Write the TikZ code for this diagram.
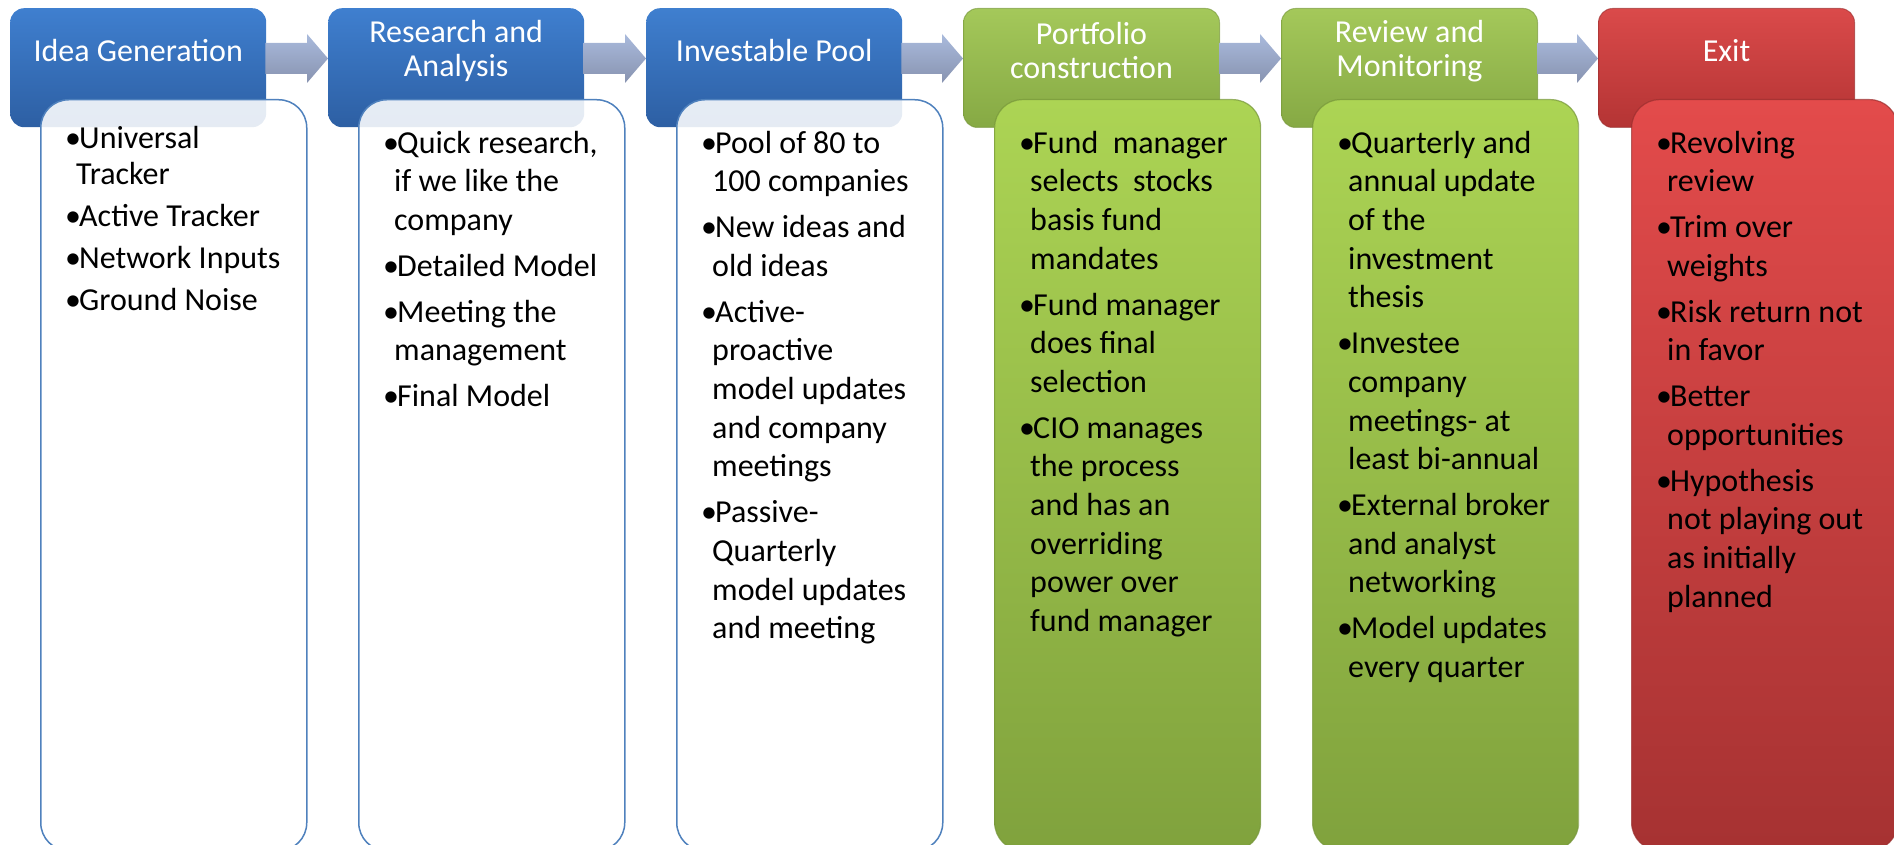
\documentclass[tikz,border=0pt]{standalone}
\usepackage{fontspec}
\setmainfont{Carlito}
\usetikzlibrary{calc}
\definecolor{blueT}{HTML}{3F7FCF}
\definecolor{blueB}{HTML}{2D5FA3}
\definecolor{arrT}{HTML}{A9BADC}
\definecolor{arrB}{HTML}{8893B0}
\definecolor{gHT}{HTML}{A4C85A}
\definecolor{gHB}{HTML}{86A944}
\definecolor{gBT}{HTML}{ACD454}
\definecolor{gBB}{HTML}{80A23D}
\definecolor{gLine}{HTML}{76963A}
\definecolor{rHT}{HTML}{DA4A4A}
\definecolor{rHB}{HTML}{B43434}
\definecolor{rBT}{HTML}{E34B4B}
\definecolor{rBB}{HTML}{A63232}
\definecolor{rLine}{HTML}{9A2E2E}
\definecolor{bodyLine}{HTML}{4F81BD}
\newcommand\bitem{\makebox[14pt][l]{•}}
\newcommand\bcont{\hspace*{11pt}}
\tikzset{
  hdr/.style={rectangle, rounded corners=14pt, minimum width=256pt, minimum height=119pt, inner sep=0pt, anchor=north west},
  bluehdr/.style={hdr, shade, top color=blueT, bottom color=blueB},
  greenhdr/.style={hdr, shade, top color=gHT, bottom color=gHB, draw=gLine, draw opacity=0.6, line width=1pt},
  redhdr/.style={hdr, shade, top color=rHT, bottom color=rHB, draw=rLine, draw opacity=0.6, line width=1pt},
  bodybox/.style={rectangle, rounded corners=28pt, minimum width=266pt, minimum height=751pt, inner sep=0pt, anchor=north west},
  whitebody/.style={bodybox, fill=white, fill opacity=0.88, draw=bodyLine, draw opacity=1, line width=1.5pt},
  greenbody/.style={bodybox, shade, top color=gBT, bottom color=gBB, draw=gLine, draw opacity=0.7, line width=1.2pt},
  redbody/.style={bodybox, shade, top color=rBT, bottom color=rBB, draw=rLine, draw opacity=0.7, line width=1.2pt},
  htxt/.style={text=white, align=center, inner sep=0pt, font=\fontsize{32}{34}\selectfont},
  btxt/.style={text=black, align=left, inner sep=0pt, anchor=north west, font=\fontsize{32}{38.66}\selectfont},
  flow/.style={shade, top color=arrT, bottom color=arrB},
}
\begin{document}
\begin{tikzpicture}[x=1pt,y=-1pt]
\useasboundingbox (0,0) rectangle (1894,845);
\clip (0,0) rectangle (1894,845);

% headers
\node[bluehdr] (h1) at (10,8) {};
\node[bluehdr] (h2) at (328,8) {};
\node[bluehdr] (h3) at (646,8) {};
\node[greenhdr] (h4) at (963,8) {};
\node[greenhdr] (h5) at (1281,8) {};
\node[redhdr] (h6) at (1598,8) {};

% arrows
\foreach \a/\b in {h1/h2,h2/h3,h3/h4,h4/h5,h5/h6}{
  \path[flow] ($(\a.north east)+(-1,35)$) -- ($(\b.north west)+(-21,35)$) -- ($(\b.north west)+(-21,26)$)
    -- ($(\b.north west)+(0,50.5)$) -- ($(\b.north west)+(-21,75)$) -- ($(\b.north west)+(-21,66)$)
    -- ($(\a.north east)+(-1,66)$) -- cycle;
}

% header texts
\node[htxt] (t1) at ($(h1.north)+(0,43)$) {Idea Generation};
\node[htxt] (t2) at ($(h2.north)+(0,43)$) {Research and\\Analysis};
\node[htxt] (t3) at ($(h3.north)+(0,43)$) {Investable Pool};
\node[htxt] (t4) at ($(h4.north)+(0,43)$) {Portfolio\\construction};
\node[htxt] (t5) at ($(h5.north)+(0,43)$) {Review and\\Monitoring};
\node[htxt] (t6) at ($(h6.north)+(0,43)$) {Exit};

% bodies
\node[whitebody] (b1) at (40,99) {};
\node[whitebody] (b2) at (358,99) {};
\node[whitebody] (b3) at (676,99) {};
\node[greenbody] (b4) at (994,99) {};
\node[greenbody] (b5) at (1312,99) {};
\node[redbody] (b6) at (1631,99) {};

% body texts
\node[btxt, font=\fontsize{32}{36.2}\selectfont] (x1) at ($(b1.north west)+(25,25.5)$)
 {\rule{0pt}{24pt}\bitem Universal\\ \bcont Tracker\\[5.7pt]
  \bitem Active Tracker\\[5.7pt]
  \bitem Network Inputs\\[5.7pt]
  \bitem Ground Noise};

\node[btxt] (x2) at ($(b2.north west)+(25,30)$)
 {\rule{0pt}{24pt}\bitem Quick research,\\ \bcont if we like the\\ \bcont company\\[7.2pt]
  \bitem Detailed Model\\[7.2pt]
  \bitem Meeting the\\ \bcont management\\[7.2pt]
  \bitem Final Model};

\node[btxt] (x3) at ($(b3.north west)+(25,30)$)
 {\rule{0pt}{24pt}\bitem Pool of 80 to\\ \bcont 100 companies\\[7.2pt]
  \bitem New ideas and\\ \bcont old ideas\\[7.2pt]
  \bitem Active-\\ \bcont proactive\\ \bcont model updates\\ \bcont and company\\ \bcont meetings\\[7.2pt]
  \bitem Passive-\\ \bcont Quarterly\\ \bcont model updates\\ \bcont and meeting};

\node[btxt] (x4) at ($(b4.north west)+(25,30)$)
 {\rule{0pt}{24pt}\bitem Fund\ \ manager\\ \bcont selects\ \ stocks\\ \bcont basis fund\\ \bcont mandates\\[7.2pt]
  \bitem Fund manager\\ \bcont does final\\ \bcont selection\\[7.2pt]
  \bitem CIO manages\\ \bcont the process\\ \bcont and has an\\ \bcont overriding\\ \bcont power over\\ \bcont fund manager};

\node[btxt] (x5) at ($(b5.north west)+(25,30)$)
 {\rule{0pt}{24pt}\bitem Quarterly and\\ \bcont annual update\\ \bcont of the\\ \bcont investment\\ \bcont thesis\\[7.2pt]
  \bitem Investee\\ \bcont company\\ \bcont meetings- at\\ \bcont least bi-annual\\[7.2pt]
  \bitem External broker\\ \bcont and analyst\\ \bcont networking\\[7.2pt]
  \bitem Model updates\\ \bcont every quarter};

\node[btxt] (x6) at ($(b6.north west)+(25,30)$)
 {\rule{0pt}{24pt}\bitem Revolving\\ \bcont review\\[7.2pt]
  \bitem Trim over\\ \bcont weights\\[7.2pt]
  \bitem Risk return not\\ \bcont in favor\\[7.2pt]
  \bitem Better\\ \bcont opportunities\\[7.2pt]
  \bitem Hypothesis\\ \bcont not playing out\\ \bcont as initially\\ \bcont planned};
\end{tikzpicture}
\end{document}
